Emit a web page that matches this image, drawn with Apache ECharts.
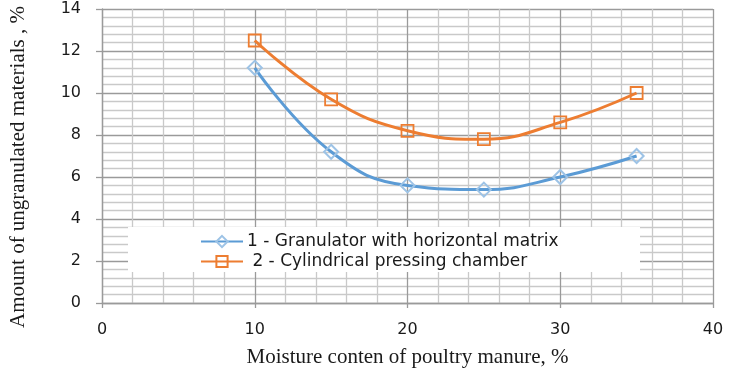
<!DOCTYPE html>
<html>
<head>
<meta charset="utf-8">
<script src="https://cdn.jsdelivr.net/npm/echarts@6/dist/echarts.min.js"></script>
<style>
  html, body { margin: 0; padding: 0; background: #fff; }
  #chart { width: 732px; height: 373px; }
</style>
</head>
<body>
<div id="chart"></div>
<script>
// Moisture content of manure, %
const moisture = [10, 15, 20, 25, 30, 35];
// Amount of ungranulated materials, %
const granulator = [11.2, 7.2, 5.6, 5.4, 6.0, 7.0];
const cylindrical = [12.5, 9.7, 8.2, 7.8, 8.6, 10.0];
const seriesNames = [
  '1 - Granulator with horizontal matrix',
  ' 2 - Cylindrical pressing chamber'
];

const pairs = (xs, ys) => xs.map((x, i) => [x, ys[i]]);

const chart = echarts.init(document.getElementById('chart'), null, { renderer: 'canvas' });

const majorGrid = { show: true, lineStyle: { color: '#9a9a9a', width: 1.3 } };
const minorGrid = { show: true, lineStyle: { color: '#c9c9c9', width: 1.3 } };
const labelFont = { fontFamily: 'DejaVu Sans', fontSize: 16, color: '#1a1a1a' };
const titleFont = { fontFamily: 'Liberation Serif', fontSize: 21, color: '#1a1a1a' };

chart.setOption({
  animation: false,
  backgroundColor: '#fff',
  grid: { left: 101, right: 19, top: 9, bottom: 68 },
  // white panel behind the legend, hiding the grid lines there
  graphic: [{
    type: 'rect',
    left: 128, top: 227,
    shape: { width: 512, height: 45 },
    style: { fill: '#fff' },
    z: 1
  }],
  legend: {
    left: 200,
    top: 233,
    orient: 'vertical',
    padding: 0,
    itemGap: 3,
    itemWidth: 42,
    itemHeight: 14,
    textStyle: { fontFamily: 'DejaVu Sans', fontSize: 17, color: '#1a1a1a', padding: [0, 0, 0, -1] },
    data: seriesNames
  },
  xAxis: {
    type: 'value',
    min: 0, max: 40, interval: 10,
    name: 'Moisture conten of poultry manure, %',
    nameLocation: 'middle',
    nameGap: 44,
    nameTextStyle: titleFont,
    axisLine: { show: true, lineStyle: { color: '#9a9a9a', width: 1.3 } },
    axisTick: { show: true, length: 5, lineStyle: { color: '#9a9a9a', width: 1.3 } },
    axisLabel: Object.assign({ margin: 19 }, labelFont),
    splitLine: majorGrid,
    minorTick: { show: false, splitNumber: 5 },
    minorSplitLine: minorGrid
  },
  yAxis: {
    type: 'value',
    min: 0, max: 14, interval: 2,
    name: 'Amount of ungranulated materials , %',
    nameLocation: 'middle',
    nameGap: 73,
    nameTextStyle: Object.assign({ padding: [0, 22, 0, 0] }, titleFont),
    axisLine: { show: true, lineStyle: { color: '#9a9a9a', width: 1.3 } },
    axisTick: { show: true, length: 6, lineStyle: { color: '#9a9a9a', width: 1.3 } },
    axisLabel: Object.assign({ margin: 21 }, labelFont),
    splitLine: majorGrid,
    minorTick: { show: false, splitNumber: 5 },
    minorSplitLine: minorGrid
  },
  series: [
    {
      name: seriesNames[0],
      type: 'line',
      smooth: 0.45,
      data: pairs(moisture, granulator),
      symbol: 'diamond',
      symbolSize: 14,
      lineStyle: { color: '#5b9bd5', width: 3 },
      itemStyle: { color: 'rgba(255,255,255,0)', borderColor: '#9dc3e6', borderWidth: 2 },
      z: 3
    },
    {
      name: seriesNames[1],
      type: 'line',
      smooth: 0.45,
      data: pairs(moisture, cylindrical),
      symbol: 'rect',
      symbolSize: 12,
      lineStyle: { color: '#ed7d31', width: 3 },
      itemStyle: { color: 'rgba(255,255,255,0)', borderColor: '#ed7d31', borderWidth: 1.8 },
      z: 3
    }
  ]
});
</script>
</body>
</html>
